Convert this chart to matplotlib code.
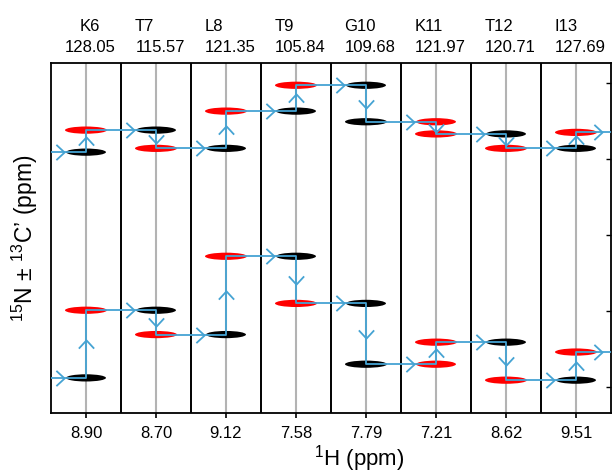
import matplotlib
matplotlib.use('Agg')
import matplotlib.pyplot as plt
import numpy as np
from matplotlib.patches import Ellipse
from matplotlib.path import Path

plt.rcParams['font.family'] = ['Liberation Sans', 'DejaVu Sans']
plt.rcParams['mathtext.fontset'] = 'custom'
plt.rcParams['mathtext.rm'] = 'Liberation Sans'
plt.rcParams['mathtext.it'] = 'Liberation Sans:italic'

# strip data
residues = ['K6', 'T7', 'L8', 'T9', 'G10', 'K11', 'T12', 'I13']
n15_ppm = [128.05, 115.57, 121.35, 105.84, 109.68, 121.97, 120.71, 127.69]
h1_ppm = [8.90, 8.70, 9.12, 7.58, 7.79, 7.21, 8.62, 9.51]

# carbon shifts (relative units, one unit per y tick), entry and exit peak of each strip
top_in = [0.91, 0.62, 0.86, 0.37, 0.03, 0.51, 0.67, 0.86]
top_out = [0.62, 0.86, 0.37, 0.03, 0.51, 0.67, 0.86, 0.65]
bot_in = [3.88, 2.99, 3.31, 2.28, 2.90, 3.70, 3.41, 3.91]
bot_out = [2.99, 3.31, 2.28, 2.90, 3.70, 3.41, 3.91, 3.54]
in_colors = ['black', 'black', 'black', 'black', 'black', 'red', 'black', 'black']
out_colors = ['red', 'red', 'red', 'red', 'black', 'red', 'red', 'red']

walk_color = '#45a3d3'

# open chevron markers
right_chev = Path([(-0.54, 1), (0.54, 0), (-0.54, -1)], [Path.MOVETO, Path.LINETO, Path.LINETO])
up_chev = Path([(-1, -0.54), (0, 0.54), (1, -0.54)], [Path.MOVETO, Path.LINETO, Path.LINETO])
down_chev = Path([(-1, 0.54), (0, -0.54), (1, 0.54)], [Path.MOVETO, Path.LINETO, Path.LINETO])

fig = plt.figure(figsize=(6.12, 4.73), dpi=100)
ax = fig.add_axes([51 / 612, 60 / 473, 560 / 612, 350 / 473])

x = np.arange(len(residues))
for k in x:
    ax.axvline(k, color='#b3b3b3', lw=1.5, zorder=0)
for k in x[:-1]:
    ax.axvline(k + 0.5, color='black', lw=1.4, zorder=1)


def draw_walk(y_in, y_out):
    for k in x:
        ax.add_patch(Ellipse((k, y_in[k]), 0.57, 0.095, color=in_colors[k], lw=0, zorder=2))
        ax.add_patch(Ellipse((k, y_out[k]), 0.60, 0.095, color=out_colors[k], lw=0, zorder=2))
    px = [-0.5]
    py = [y_in[0]]
    for k in x:
        px += [k, k]
        py += [y_in[k], y_out[k]]
    px.append(len(x) - 0.5)
    py.append(y_out[-1])
    ax.plot(px, py, color=walk_color, lw=1.3, zorder=3)
    # chevrons
    for k in x:
        ax.plot(k - 0.365, y_in[k], marker=right_chev, ms=11, mfc='none',
                mec=walk_color, mew=1.3, zorder=4)
        mark = up_chev if y_out[k] < y_in[k] else down_chev
        ax.plot(k, (y_in[k] + y_out[k]) / 2, marker=mark, ms=11, mfc='none',
                mec=walk_color, mew=1.3, zorder=4)
    ax.plot(len(x) - 1 + 0.32, y_out[-1], marker=right_chev, ms=11, mfc='none',
            mec=walk_color, mew=1.3, zorder=4)


draw_walk(top_in, top_out)
draw_walk(bot_in, bot_out)

ax.set_xlim(-0.5, len(x) - 0.5)
ax.set_ylim(4.342, -0.263)

ax.set_xticks(x, labels=[f'{v:.2f}' for v in h1_ppm])
ax.tick_params(axis='x', direction='out', length=3.6, width=1.2, labelsize=12, pad=6)
ax.yaxis.tick_right()
ax.set_yticks([0, 1, 2, 3, 4], labels=[])
ax.tick_params(axis='y', direction='in', length=3.5, width=1.0)
for s in ax.spines.values():
    s.set_linewidth(1.3)

trans = ax.get_xaxis_transform()
for k in x:
    ax.text(k + 0.06, 1.043, f'{n15_ppm[k]:.2f}', transform=trans,
            ha='center', va='center', fontsize=12)
    if k == 0:
        ax.text(k + 0.05, 1.104, residues[k], transform=trans,
                ha='center', va='center', fontsize=12)
    else:
        ax.text(k - 0.31, 1.104, residues[k], transform=trans,
                ha='left', va='center', fontsize=12)

ax.set_xlabel('$^{1}$H (ppm)', fontsize=16)
ax.xaxis.set_label_coords(0.55, -0.085)
ax.set_ylabel('$^{15}$N ± $^{13}$C’ (ppm)', fontsize=16.5)
ax.yaxis.set_label_coords(-0.02, 0.5)

fig.savefig('out.png', dpi=100)
